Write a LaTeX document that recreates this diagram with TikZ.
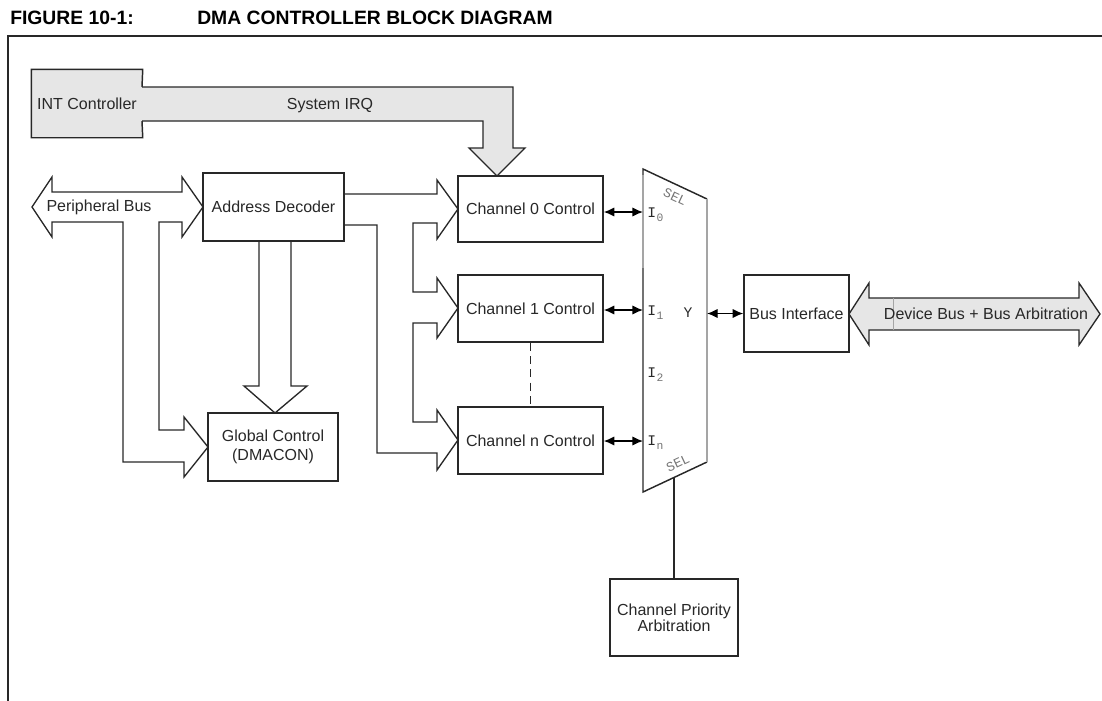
\documentclass[tikz,border=0pt]{standalone}
\usepackage{fontspec}
\setmainfont{Liberation Sans}
\newfontfamily\monofont{Liberation Mono}
\usetikzlibrary{arrows.meta}
\definecolor{busfill}{RGB}{230,230,230}
\definecolor{ink}{RGB}{40,40,40}
\definecolor{muxgray}{RGB}{165,165,165}

\begin{document}
\begin{tikzpicture}[x=0.75pt,y=-0.75pt,
  every node/.style={font=\fontsize{12}{14}\selectfont, text=ink},
  blk/.style={draw=ink, line width=1.1pt, fill=white, inner sep=0pt, align=center},
  bus/.style={draw=ink, line width=1pt, line join=miter},
  link/.style={draw=black, line width=1pt, {Latex[length=8pt,width=7pt]}-{Latex[length=8pt,width=7pt]}},
  port/.style={font=\monofont\fontsize{11}{12}\selectfont, anchor=west, inner sep=0pt},
  sub/.style={font=\monofont\fontsize{8.5}{9}\selectfont, text=muxgray!70!black, anchor=base west, inner sep=0pt, yshift=-2.5pt},
  sel/.style={font=\monofont\fontsize{10}{11}\selectfont, text=muxgray!70!black, inner sep=0pt},
]
\useasboundingbox (0,0) rectangle (1102,700);

% page frame and caption
\draw[ink, line width=1.5pt] (8,702) -- (8,36) -- (1104,36);
\node[anchor=base west, inner sep=0pt, text=black, font=\bfseries\fontsize{14.5}{17}\selectfont] (fig) at (10,24) {FIGURE 10-1:};
\node[anchor=base west, inner sep=0pt, text=black, font=\bfseries\fontsize{14.5}{17}\selectfont] (ttl) at (197,24) {DMA CONTROLLER BLOCK DIAGRAM};

% system IRQ bus from the interrupt controller down to channel 0
\draw[bus, fill=busfill] (142,87) -- (513,87) -- (513,148) -- (525,148) -- (497,176)
  -- (469,148) -- (483,148) -- (483,121) -- (142,121);
\node (irq) at (330,106) {System IRQ};

% peripheral bus, branching to the address decoder and global control
\draw[bus, fill=white] (32,207) -- (52,177) -- (52,192) -- (182,192) -- (182,177) -- (203,207)
  -- (182,237) -- (182,222) -- (159,222) -- (159,430) -- (184,430) -- (184,417) -- (208,447)
  -- (184,477) -- (184,462) -- (123,462) -- (123,222) -- (52,222) -- (52,237) -- cycle;
\node (pbus) at (99,207) {Peripheral Bus};

% address decoder to global control
\draw[bus, fill=white] (259,241) -- (259,386) -- (244,386) -- (275,413) -- (307,386)
  -- (291,386) -- (291,241);

% address decoder to the channel controls
\draw[bus, fill=white] (344,194) -- (437,194) -- (437,180) -- (458,209) -- (437,239)
  -- (437,223) -- (413,223) -- (413,292) -- (437,292) -- (437,278) -- (458,308) -- (437,338)
  -- (437,323) -- (413,323) -- (413,422) -- (437,422) -- (437,410) -- (458,440) -- (437,470)
  -- (437,453) -- (377,453) -- (377,225) -- (344,225);

% device bus
\draw[bus, fill=busfill] (849,314) -- (869,283) -- (869,298) -- (1079,298) -- (1079,283)
  -- (1100,314) -- (1079,345) -- (1079,330) -- (869,330) -- (869,345) -- cycle;
\draw[muxgray, line width=0.6pt] (893,298) -- (893,330);
\node (dbus) at (986,314) {Device Bus + Bus Arbitration};

% blocks
\node[blk, draw=none, fill=busfill, minimum width=110*0.75pt, minimum height=67*0.75pt] (intc) at (87,103.5) {INT Controller};
\draw[bus, line width=1.1pt] (142,87) -- (intc.north east) -- (intc.north west)
  -- (intc.south west) -- (intc.south east) -- (142,121);
\node[blk, minimum width=141*0.75pt, minimum height=68*0.75pt] (addr) at (273.5,207) {Address Decoder};
\node[blk, minimum width=130*0.75pt, minimum height=68*0.75pt, font=\fontsize{12}{14.3}\selectfont] (glob) at (273,447) {Global Control\\(DMACON)};
\node[blk, minimum width=145*0.75pt, minimum height=66*0.75pt] (ch0) at (530.5,209) {Channel 0 Control};
\node[blk, minimum width=145*0.75pt, minimum height=67*0.75pt] (ch1) at (530.5,308.5) {Channel 1 Control};
\node[blk, minimum width=145*0.75pt, minimum height=67*0.75pt] (chn) at (530.5,440.5) {Channel n Control};
\node[blk, minimum width=105*0.75pt, minimum height=77*0.75pt] (bif) at (796.5,313.5) {Bus Interface};
\node[blk, minimum width=128*0.75pt, minimum height=77*0.75pt, font=\fontsize{12}{10.5}\selectfont] (prio) at (674,617.5) {Channel Priority\\Arbitration};

\draw[ink, dashed, dash pattern=on 6pt off 4pt, line width=1pt] (ch1.south) -- (chn.north);

% multiplexer
\coordinate (i0) at (643,212);
\coordinate (i1) at (643,310);
\coordinate (in) at (643,441);
\coordinate (yout) at (707,313.5);
\coordinate (selb) at (674,477.5);
\draw[ink, line width=1.1pt] (707,199) -- (643,169) -- (643,492) -- (707,462);
\draw[muxgray, line width=1.3pt] (707,199) -- (707,462);
\draw[muxgray, line width=1.3pt] (643,175) -- (643,268);

\node[port] (li0) at (647,213) {I};
\node[sub] at (li0.base east) {0};
\node[port] (li1) at (647,311) {I};
\node[sub] at (li1.base east) {1};
\node[port] (li2) at (647,373) {I};
\node[sub] at (li2.base east) {2};
\node[port] (lin) at (647,441) {I};
\node[sub] at (lin.base east) {n};
\node[port, anchor=center] (ly) at (688,313) {Y};
\node[sel, rotate=-25] (selt) at (675,197) {SEL};
\node[sel, rotate=25] (selbl) at (678,463) {SEL};

% data paths
\draw[link] (ch0.east |- i0) -- (i0);
\draw[link] (ch1.east |- i1) -- (i1);
\draw[link] (chn.east |- in) -- (in);
\draw[link] (yout) -- (bif.west);
\draw[ink, line width=1.1pt] (selb) -- (prio.north);

\end{tikzpicture}
\end{document}
